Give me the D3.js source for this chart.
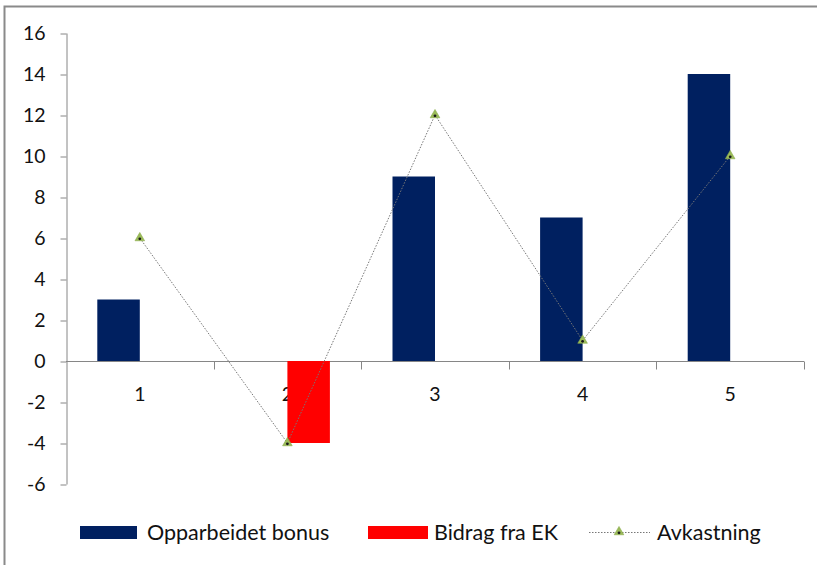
<!DOCTYPE html>
<html>
<head>
<meta charset="utf-8">
<script src="https://cdn.jsdelivr.net/npm/d3@7"></script>
<style>
  html, body { margin: 0; padding: 0; background: #fff; }
  svg text { font-family: Lato, "Open Sans", sans-serif; fill: #111; }
</style>
</head>
<body>
<svg id="chart" width="817" height="565"></svg>
<script>
// Data
const categories = ["1", "2", "3", "4", "5"];
const opparbeidetBonus = [3, 0, 9, 7, 14];
const bidragFraEK = [0, -4, 0, 0, 0];
const avkastning = [6, -4, 12, 1, 10];
const yTicks = [16, 14, 12, 10, 8, 6, 4, 2, 0, -2, -4, -6];
const seriesNames = ["Opparbeidet bonus", "Bidrag fra EK", "Avkastning"];

const colBlue = "#002060";
const colRed = "#ff0000";
const axisCol = "#868686";
const fontSize = 19.5;
const legendFontSize = 21.5;

const svg = d3.select("#chart");

// outer frame (left and top edges visible)
svg.append("path")
  .attr("d", "M4.5,565 L4.5,6.5 L817,6.5")
  .attr("fill", "none").attr("stroke", "#8a8a8a").attr("stroke-width", 2);

const plot = { left: 66, right: 804, top: 33, bottom: 484 };

const x = d3.scaleBand().domain(categories).range([plot.left, plot.right]).padding(0);
const y = d3.scaleLinear().domain([-6, 16]).range([plot.bottom, plot.top]);
const barW = 42.5;

// Y axis
const yAxis = d3.axisLeft(y).tickValues(yTicks).tickFormat(d => String(d))
  .tickSize(6).tickPadding(15).tickSizeOuter(0);
const gy = svg.append("g").attr("transform", `translate(${plot.left + 0.5},0)`).call(yAxis);
gy.select(".domain").attr("stroke", axisCol);
gy.selectAll(".tick line").attr("stroke", axisCol).attr("transform", "translate(0,0.5)");
gy.selectAll(".tick text").attr("font-size", fontSize).attr("font-family", "Lato, sans-serif").attr("fill", "#111");

// X axis at zero
const gx = svg.append("g").attr("transform", `translate(0,${Math.round(y(0)) + 0.5})`);
gx.append("line").attr("x1", plot.left).attr("x2", plot.right)
  .attr("stroke", axisCol);
const bounds = categories.map(c => x(c) + x.bandwidth());
gx.selectAll("line.tk").data(bounds).join("line")
  .attr("class", "tk")
  .attr("x1", d => Math.round(d) + 0.5).attr("x2", d => Math.round(d) + 0.5)
  .attr("y1", 0).attr("y2", 8).attr("stroke", axisCol);
gx.selectAll("text").data(categories).join("text")
  .attr("x", d => x(d) + x.bandwidth() / 2)
  .attr("y", 39)
  .attr("text-anchor", "middle")
  .attr("font-size", fontSize)
  .text(d => d);

// Bars
svg.append("g").selectAll("rect").data(categories).join("rect")
  .attr("x", (d) => x(d) + x.bandwidth() / 2 - barW)
  .attr("width", barW)
  .attr("y", (d, i) => y(Math.max(0, opparbeidetBonus[i])))
  .attr("height", (d, i) => Math.abs(y(opparbeidetBonus[i]) - y(0)))
  .attr("fill", colBlue);

svg.append("g").selectAll("rect").data(categories).join("rect")
  .attr("x", (d) => x(d) + x.bandwidth() / 2)
  .attr("width", barW)
  .attr("y", (d, i) => y(Math.max(0, bidragFraEK[i])))
  .attr("height", (d, i) => Math.abs(y(bidragFraEK[i]) - y(0)))
  .attr("fill", colRed);

// Line series
const line = d3.line()
  .x((d, i) => x(categories[i]) + x.bandwidth() / 2)
  .y(d => y(d));
svg.append("path").datum(avkastning)
  .attr("d", line)
  .attr("fill", "none").attr("stroke", "#777").attr("stroke-width", 1)
  .attr("stroke-dasharray", "1.5,1.5");

const tri = d3.symbol().type(d3.symbolTriangle).size(40);
function marker(g) {
  g.append("path").attr("d", tri).attr("fill", "#9bbb59").attr("stroke", "#8aab4a").attr("stroke-width", 0.6);
  g.append("circle").attr("r", 1.4).attr("cy", 0.8).attr("fill", "#1a1a1a");
}
svg.append("g").selectAll("g").data(avkastning).join("g")
  .attr("transform", (d, i) => `translate(${x(categories[i]) + x.bandwidth() / 2},${y(d)})`)
  .call(marker);

// Legend
const lg = svg.append("g").attr("transform", "translate(0,532)");
lg.append("rect").attr("x", 80).attr("y", -6).attr("width", 57).attr("height", 13).attr("fill", colBlue);
lg.append("text").attr("x", 147).attr("y", 8).attr("font-size", legendFontSize).text(seriesNames[0]);
lg.append("rect").attr("x", 368).attr("y", -6).attr("width", 60).attr("height", 13).attr("fill", colRed);
lg.append("text").attr("x", 434).attr("y", 8).attr("font-size", legendFontSize).text(seriesNames[1]);
lg.append("line").attr("x1", 589).attr("x2", 650).attr("y1", 0.5).attr("y2", 0.5)
  .attr("stroke", "#777").attr("stroke-dasharray", "1.5,1.5");
lg.append("g").attr("transform", "translate(619,0)").call(marker);
lg.append("text").attr("x", 657).attr("y", 8).attr("font-size", legendFontSize).text(seriesNames[2]);
</script>
</body>
</html>
